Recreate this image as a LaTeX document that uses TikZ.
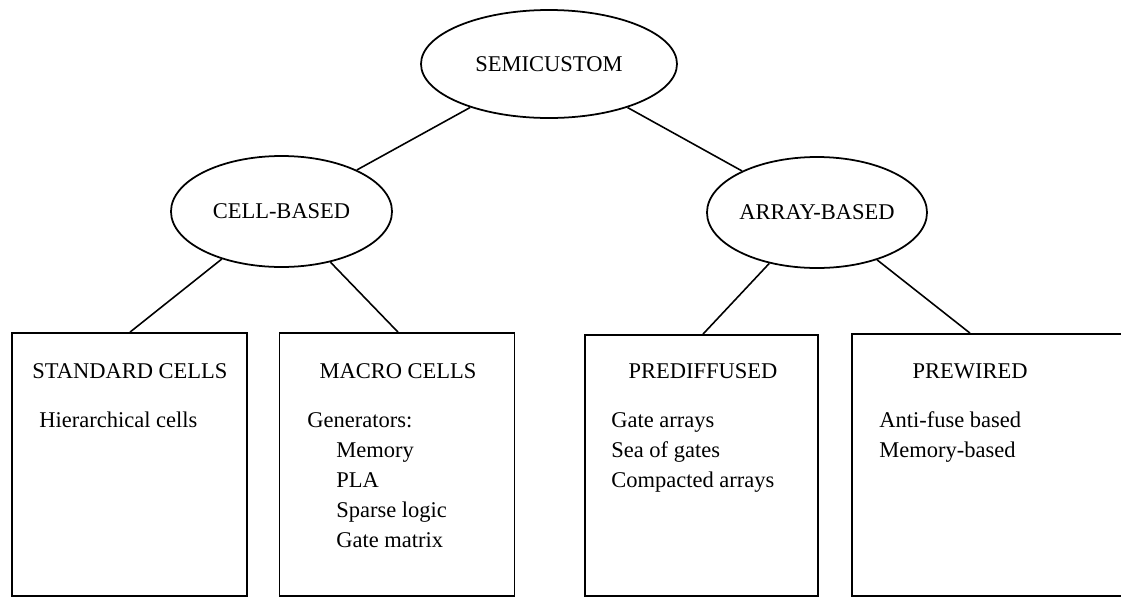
\documentclass[tikz,border=0pt]{standalone}
\usepackage{fontspec}
\setmainfont{Liberation Serif}
\usetikzlibrary{shapes,positioning,calc}

\tikzset{
  classnode/.style={ellipse, draw, line width=1pt, inner sep=0pt},
  stylebox/.style={draw, line width=1pt, minimum width=47mm, minimum height=52.6mm, inner sep=0pt},
  boxhead/.style={anchor=base, inner sep=0pt},
  boxitem/.style={anchor=base west, inner sep=0pt},
  link/.style={line width=0.9pt}
}

\begin{document}
\begin{tikzpicture}[x=0.2mm, y=-0.2mm, font=\fontsize{12.8}{15}\selectfont]
    \useasboundingbox (0,0) rectangle (1121,598);

    % classes
    \node[classnode, minimum width=51.2mm, minimum height=21.6mm] (semi) at (549,64) {SEMICUSTOM};
    \node[classnode, minimum width=44.2mm, minimum height=22.2mm] (cell) at (281.5,211.5) {CELL-BASED};
    \node[classnode, minimum width=44mm, minimum height=22.2mm] (array) at (817,212.5) {ARRAY-BASED};

    % styles
    \node[stylebox] (std) at (129.5,464.5) {};
    \node[stylebox] (macro) at (397,464.5) {};
    \node[stylebox, minimum width=46.6mm, minimum height=52.2mm] (prediff) at (701.5,465.5) {};
    \node[stylebox, minimum width=57.6mm, minimum height=52.4mm] (prewired) at (996,465) {};

    \node[boxhead] (stdhead) at (130,378) {STANDARD CELLS};
    \node[boxhead] (macrohead) at (398,378) {MACRO CELLS};
    \node[boxhead] (prediffhead) at (703,378) {PREDIFFUSED};
    \node[boxhead] (prewiredhead) at (970,378) {PREWIRED};

    % contents
    \node[boxitem] (hier) at (39,427) {Hierarchical cells};
    \node[boxitem] (gen) at (307,427) {Generators:};
    \foreach \name/\txt [count=\i] in {mem/Memory, pla/PLA, sparse/Sparse logic, gmat/Gate matrix}
        \node[boxitem] (\name) at (336,427+30*\i) {\txt};
    \foreach \name/\txt [count=\i from 0] in {ga/Gate arrays, sog/Sea of gates, ca/Compacted arrays}
        \node[boxitem] (\name) at (611,427+30*\i) {\txt};
    \foreach \name/\txt [count=\i from 0] in {af/Anti-fuse based, mb/Memory-based}
        \node[boxitem] (\name) at (879,427+30*\i) {\txt};

    % tree lines
    \draw[link] (semi) -- (cell);
    \draw[link] (semi) -- (array);
    \draw[link] (cell) -- (std.north -| stdhead);
    \draw[link] (cell) -- (macro.north -| macrohead);
    \draw[link] (array) -- (prediff.north -| prediffhead);
    \draw[link] (array) -- (prewired.north -| prewiredhead);
\end{tikzpicture}
\end{document}
